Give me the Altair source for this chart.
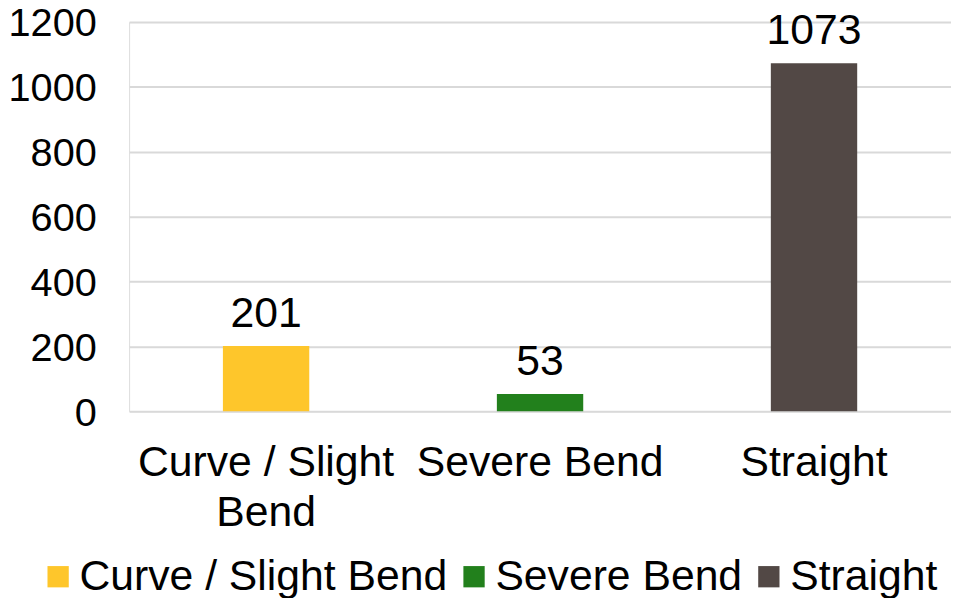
import altair as alt
import pandas as pd

categories = ["Curve / Slight Bend", "Severe Bend", "Straight"]
counts = [201, 53, 1073]
colors = ["#FEC62B", "#22801C", "#524845"]

df = pd.DataFrame({"category": categories, "count": counts})

FONT = "Liberation Sans"
FS = 43

x = alt.X(
    "category:N",
    sort=categories,
    scale=alt.Scale(paddingInner=0, paddingOuter=0),
    axis=alt.Axis(
        title=None,
        labelAngle=0,
        labelFontSize=FS,
        labelFont=FONT,
        labelColor="#000000",
        labelPadding=31,
        labelLineHeight=50,
        labelLimit=400,
        ticks=False,
        domain=False,
        labelExpr="datum.value == 'Curve / Slight Bend' ? ['Curve / Slight', 'Bend'] : datum.value",
    ),
)

y = alt.Y(
    "count:Q",
    scale=alt.Scale(domain=[0, 1200], nice=False),
    axis=alt.Axis(
        title=None,
        values=[0, 200, 400, 600, 800, 1000, 1200],
        format="d",
        labelFontSize=40,
        labelFont=FONT,
        labelColor="#000000",
        labelPadding=33,
        labelOffset=2,
        ticks=False,
        domain=False,
        grid=True,
        gridColor="#D9D9D9",
        gridWidth=2,
    ),
)

bars = alt.Chart(df).mark_bar(size=87).encode(
    x=x,
    y=y,
    color=alt.Color(
        "category:N",
        sort=categories,
        scale=alt.Scale(domain=categories, range=colors),
        legend=alt.Legend(
            title=None,
            orient="none",
            legendX=-93,
            legendY=537,
            padding=0,
            direction="horizontal",
            symbolType="square",
            symbolSize=460,
            symbolStrokeWidth=0,
            labelFontSize=FS,
            labelFont=FONT,
            labelColor="#000000",
            labelOffset=0,
            columnPadding=5,
            labelLimit=500,
        ),
    ),
)

text = alt.Chart(df).mark_text(
    baseline="alphabetic", dy=-19, fontSize=FS, font=FONT, color="#000000"
).encode(
    x=alt.X("category:N", sort=categories),
    y=alt.Y("count:Q"),
    text=alt.Text("count:Q"),
)

chart = (
    alt.layer(bars, text)
    .properties(
        width=828,
        height=392,
        autosize=alt.AutoSizeParams(type="none"),
        padding={"left": 122, "top": 12, "right": 0, "bottom": 186},
    )
    .configure_view(stroke=None)
    .configure(background="#FFFFFF")
)

chart.save("out.html", embed_options={"renderer": "svg", "actions": False})
